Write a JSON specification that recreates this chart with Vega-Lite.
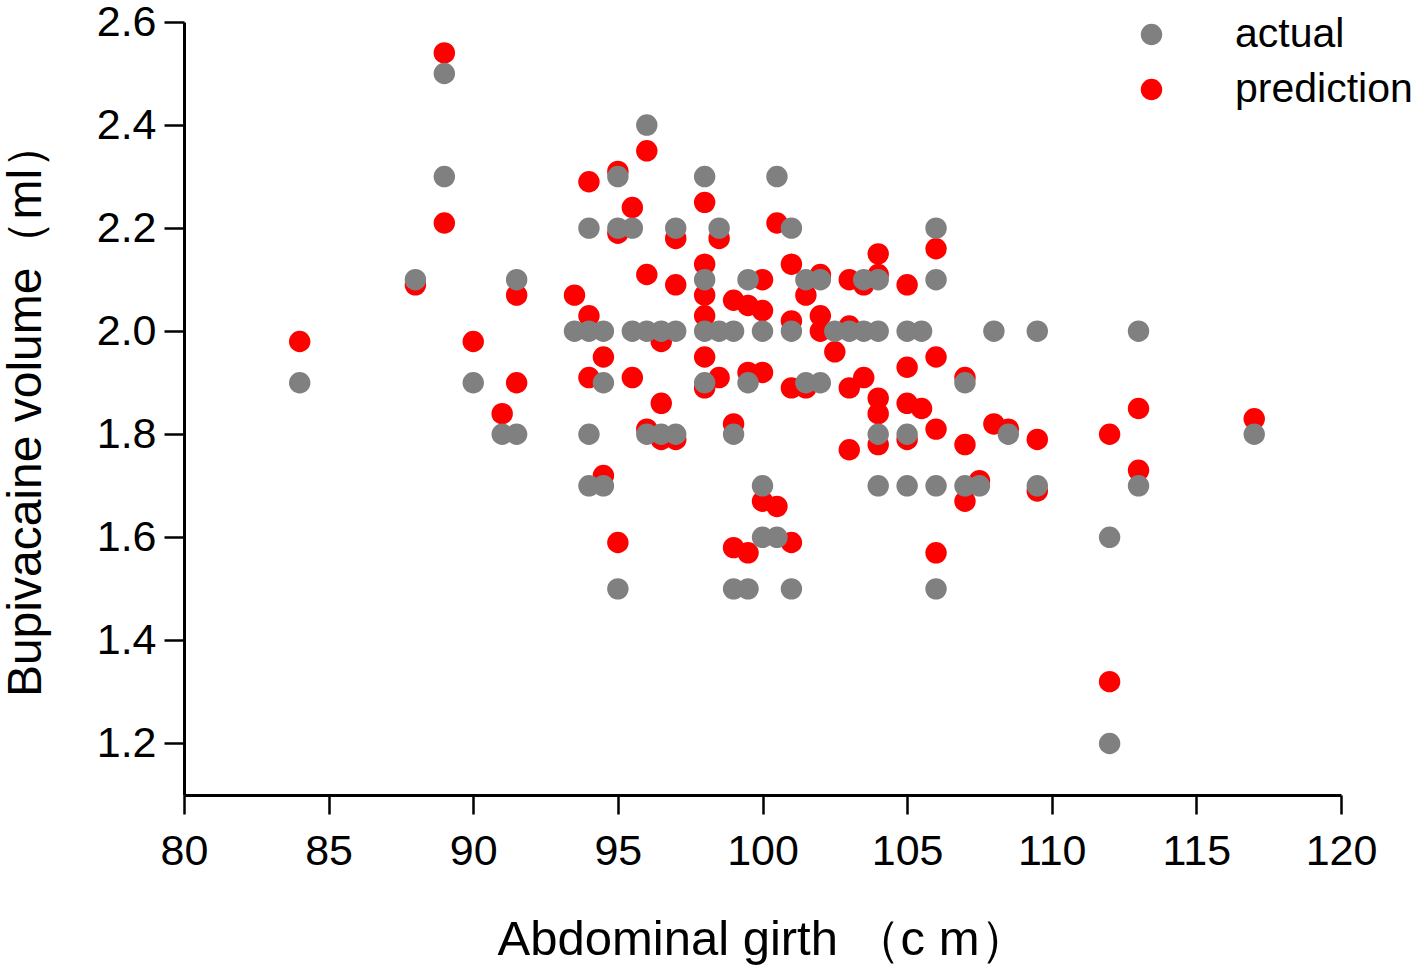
{
  "$schema": "https://vega.github.io/schema/vega-lite/v6.json",
  "autosize": "none",
  "width": 1157,
  "height": 773,
  "padding": {"left": 184, "top": 22, "right": 77, "bottom": 174},
  "background": "white",
  "config": {
    "view": {"stroke": null},
    "font": "Liberation Sans"
  },
  "data": {
    "values": [
      {"girth": 84, "volume": 1.98, "series": "prediction"},
      {"girth": 88, "volume": 2.09, "series": "prediction"},
      {"girth": 89, "volume": 2.54, "series": "prediction"},
      {"girth": 89, "volume": 2.21, "series": "prediction"},
      {"girth": 90, "volume": 1.98, "series": "prediction"},
      {"girth": 91, "volume": 1.84, "series": "prediction"},
      {"girth": 91.5, "volume": 2.07, "series": "prediction"},
      {"girth": 91.5, "volume": 1.90, "series": "prediction"},
      {"girth": 93.5, "volume": 2.07, "series": "prediction"},
      {"girth": 94, "volume": 2.29, "series": "prediction"},
      {"girth": 94, "volume": 2.03, "series": "prediction"},
      {"girth": 94, "volume": 1.91, "series": "prediction"},
      {"girth": 94.5, "volume": 1.95, "series": "prediction"},
      {"girth": 94.5, "volume": 1.72, "series": "prediction"},
      {"girth": 95, "volume": 2.31, "series": "prediction"},
      {"girth": 95, "volume": 2.19, "series": "prediction"},
      {"girth": 95, "volume": 1.59, "series": "prediction"},
      {"girth": 95.5, "volume": 2.24, "series": "prediction"},
      {"girth": 95.5, "volume": 1.91, "series": "prediction"},
      {"girth": 96, "volume": 2.35, "series": "prediction"},
      {"girth": 96, "volume": 2.11, "series": "prediction"},
      {"girth": 96, "volume": 1.81, "series": "prediction"},
      {"girth": 96.5, "volume": 1.98, "series": "prediction"},
      {"girth": 96.5, "volume": 1.86, "series": "prediction"},
      {"girth": 96.5, "volume": 1.79, "series": "prediction"},
      {"girth": 97, "volume": 2.18, "series": "prediction"},
      {"girth": 97, "volume": 2.09, "series": "prediction"},
      {"girth": 97, "volume": 1.79, "series": "prediction"},
      {"girth": 98, "volume": 2.25, "series": "prediction"},
      {"girth": 98, "volume": 2.13, "series": "prediction"},
      {"girth": 98, "volume": 2.07, "series": "prediction"},
      {"girth": 98, "volume": 2.03, "series": "prediction"},
      {"girth": 98, "volume": 1.95, "series": "prediction"},
      {"girth": 98, "volume": 1.89, "series": "prediction"},
      {"girth": 98.5, "volume": 2.18, "series": "prediction"},
      {"girth": 98.5, "volume": 1.91, "series": "prediction"},
      {"girth": 99, "volume": 2.06, "series": "prediction"},
      {"girth": 99, "volume": 1.82, "series": "prediction"},
      {"girth": 99, "volume": 1.58, "series": "prediction"},
      {"girth": 99.5, "volume": 2.05, "series": "prediction"},
      {"girth": 99.5, "volume": 1.92, "series": "prediction"},
      {"girth": 99.5, "volume": 1.57, "series": "prediction"},
      {"girth": 100, "volume": 2.10, "series": "prediction"},
      {"girth": 100, "volume": 2.04, "series": "prediction"},
      {"girth": 100, "volume": 1.92, "series": "prediction"},
      {"girth": 100, "volume": 1.67, "series": "prediction"},
      {"girth": 100.5, "volume": 2.21, "series": "prediction"},
      {"girth": 100.5, "volume": 1.66, "series": "prediction"},
      {"girth": 101, "volume": 2.13, "series": "prediction"},
      {"girth": 101, "volume": 2.02, "series": "prediction"},
      {"girth": 101, "volume": 1.89, "series": "prediction"},
      {"girth": 101, "volume": 1.59, "series": "prediction"},
      {"girth": 101.5, "volume": 2.07, "series": "prediction"},
      {"girth": 101.5, "volume": 1.89, "series": "prediction"},
      {"girth": 102, "volume": 2.11, "series": "prediction"},
      {"girth": 102, "volume": 2.03, "series": "prediction"},
      {"girth": 102, "volume": 2.00, "series": "prediction"},
      {"girth": 102.5, "volume": 1.96, "series": "prediction"},
      {"girth": 103, "volume": 2.10, "series": "prediction"},
      {"girth": 103, "volume": 2.01, "series": "prediction"},
      {"girth": 103, "volume": 1.89, "series": "prediction"},
      {"girth": 103, "volume": 1.77, "series": "prediction"},
      {"girth": 103.5, "volume": 2.09, "series": "prediction"},
      {"girth": 103.5, "volume": 1.91, "series": "prediction"},
      {"girth": 104, "volume": 2.15, "series": "prediction"},
      {"girth": 104, "volume": 2.11, "series": "prediction"},
      {"girth": 104, "volume": 1.87, "series": "prediction"},
      {"girth": 104, "volume": 1.84, "series": "prediction"},
      {"girth": 104, "volume": 1.78, "series": "prediction"},
      {"girth": 105, "volume": 2.09, "series": "prediction"},
      {"girth": 105, "volume": 1.93, "series": "prediction"},
      {"girth": 105, "volume": 1.86, "series": "prediction"},
      {"girth": 105, "volume": 1.79, "series": "prediction"},
      {"girth": 105.5, "volume": 1.85, "series": "prediction"},
      {"girth": 106, "volume": 2.16, "series": "prediction"},
      {"girth": 106, "volume": 1.95, "series": "prediction"},
      {"girth": 106, "volume": 1.81, "series": "prediction"},
      {"girth": 106, "volume": 1.57, "series": "prediction"},
      {"girth": 107, "volume": 1.91, "series": "prediction"},
      {"girth": 107, "volume": 1.78, "series": "prediction"},
      {"girth": 107, "volume": 1.67, "series": "prediction"},
      {"girth": 107.5, "volume": 1.71, "series": "prediction"},
      {"girth": 108, "volume": 1.82, "series": "prediction"},
      {"girth": 108.5, "volume": 1.81, "series": "prediction"},
      {"girth": 109.5, "volume": 1.79, "series": "prediction"},
      {"girth": 109.5, "volume": 1.69, "series": "prediction"},
      {"girth": 112, "volume": 1.80, "series": "prediction"},
      {"girth": 112, "volume": 1.32, "series": "prediction"},
      {"girth": 113, "volume": 1.85, "series": "prediction"},
      {"girth": 113, "volume": 1.73, "series": "prediction"},
      {"girth": 117, "volume": 1.83, "series": "prediction"},
      {"girth": 84, "volume": 1.9, "series": "actual"},
      {"girth": 88, "volume": 2.1, "series": "actual"},
      {"girth": 89, "volume": 2.5, "series": "actual"},
      {"girth": 89, "volume": 2.3, "series": "actual"},
      {"girth": 90, "volume": 1.9, "series": "actual"},
      {"girth": 91, "volume": 1.8, "series": "actual"},
      {"girth": 91.5, "volume": 1.8, "series": "actual"},
      {"girth": 91.5, "volume": 2.1, "series": "actual"},
      {"girth": 93.5, "volume": 2.0, "series": "actual"},
      {"girth": 94, "volume": 2.0, "series": "actual"},
      {"girth": 94.5, "volume": 2.0, "series": "actual"},
      {"girth": 94, "volume": 2.2, "series": "actual"},
      {"girth": 94.5, "volume": 1.9, "series": "actual"},
      {"girth": 94, "volume": 1.8, "series": "actual"},
      {"girth": 94, "volume": 1.7, "series": "actual"},
      {"girth": 94.5, "volume": 1.7, "series": "actual"},
      {"girth": 95, "volume": 2.3, "series": "actual"},
      {"girth": 95, "volume": 2.2, "series": "actual"},
      {"girth": 95.5, "volume": 2.2, "series": "actual"},
      {"girth": 95, "volume": 1.5, "series": "actual"},
      {"girth": 95.5, "volume": 2.0, "series": "actual"},
      {"girth": 96, "volume": 2.0, "series": "actual"},
      {"girth": 96.5, "volume": 2.0, "series": "actual"},
      {"girth": 97, "volume": 2.0, "series": "actual"},
      {"girth": 96, "volume": 2.4, "series": "actual"},
      {"girth": 97, "volume": 2.2, "series": "actual"},
      {"girth": 96, "volume": 1.8, "series": "actual"},
      {"girth": 96.5, "volume": 1.8, "series": "actual"},
      {"girth": 97, "volume": 1.8, "series": "actual"},
      {"girth": 98, "volume": 2.3, "series": "actual"},
      {"girth": 98, "volume": 2.1, "series": "actual"},
      {"girth": 98, "volume": 2.0, "series": "actual"},
      {"girth": 98.5, "volume": 2.0, "series": "actual"},
      {"girth": 99, "volume": 2.0, "series": "actual"},
      {"girth": 98, "volume": 1.9, "series": "actual"},
      {"girth": 98.5, "volume": 2.2, "series": "actual"},
      {"girth": 99, "volume": 1.8, "series": "actual"},
      {"girth": 99, "volume": 1.5, "series": "actual"},
      {"girth": 99.5, "volume": 1.5, "series": "actual"},
      {"girth": 99.5, "volume": 2.1, "series": "actual"},
      {"girth": 99.5, "volume": 1.9, "series": "actual"},
      {"girth": 100, "volume": 2.0, "series": "actual"},
      {"girth": 100, "volume": 1.7, "series": "actual"},
      {"girth": 100, "volume": 1.6, "series": "actual"},
      {"girth": 100.5, "volume": 1.6, "series": "actual"},
      {"girth": 100.5, "volume": 2.3, "series": "actual"},
      {"girth": 101, "volume": 2.2, "series": "actual"},
      {"girth": 101, "volume": 2.0, "series": "actual"},
      {"girth": 101, "volume": 1.5, "series": "actual"},
      {"girth": 101.5, "volume": 2.1, "series": "actual"},
      {"girth": 102, "volume": 2.1, "series": "actual"},
      {"girth": 101.5, "volume": 1.9, "series": "actual"},
      {"girth": 102, "volume": 1.9, "series": "actual"},
      {"girth": 102.5, "volume": 2.0, "series": "actual"},
      {"girth": 103, "volume": 2.0, "series": "actual"},
      {"girth": 103.5, "volume": 2.0, "series": "actual"},
      {"girth": 104, "volume": 2.0, "series": "actual"},
      {"girth": 103.5, "volume": 2.1, "series": "actual"},
      {"girth": 104, "volume": 2.1, "series": "actual"},
      {"girth": 104, "volume": 1.8, "series": "actual"},
      {"girth": 104, "volume": 1.7, "series": "actual"},
      {"girth": 105, "volume": 2.0, "series": "actual"},
      {"girth": 105.5, "volume": 2.0, "series": "actual"},
      {"girth": 105, "volume": 1.8, "series": "actual"},
      {"girth": 105, "volume": 1.7, "series": "actual"},
      {"girth": 106, "volume": 2.2, "series": "actual"},
      {"girth": 106, "volume": 2.1, "series": "actual"},
      {"girth": 106, "volume": 1.7, "series": "actual"},
      {"girth": 106, "volume": 1.5, "series": "actual"},
      {"girth": 107, "volume": 1.9, "series": "actual"},
      {"girth": 107, "volume": 1.7, "series": "actual"},
      {"girth": 107.5, "volume": 1.7, "series": "actual"},
      {"girth": 108, "volume": 2.0, "series": "actual"},
      {"girth": 108.5, "volume": 1.8, "series": "actual"},
      {"girth": 109.5, "volume": 2.0, "series": "actual"},
      {"girth": 109.5, "volume": 1.7, "series": "actual"},
      {"girth": 112, "volume": 1.6, "series": "actual"},
      {"girth": 112, "volume": 1.2, "series": "actual"},
      {"girth": 113, "volume": 2.0, "series": "actual"},
      {"girth": 113, "volume": 1.7, "series": "actual"},
      {"girth": 117, "volume": 1.8, "series": "actual"}
    ]
  },
  "mark": {"type": "point", "shape": "circle", "filled": true, "opacity": 1, "size": 460, "strokeWidth": 0},
  "encoding": {
    "x": {
      "field": "girth",
      "type": "quantitative",
      "scale": {"domain": [80, 120], "nice": false, "zero": false},
      "axis": {
        "title": "Abdominal girth （c m）",
        "values": [80, 85, 90, 95, 100, 105, 110, 115, 120],
        "grid": false,
        "domainColor": "black",
        "domainWidth": 3,
        "tickColor": "black",
        "tickWidth": 2.5,
        "tickSize": 19,
        "labelFontSize": 43,
        "labelColor": "black",
        "labelPadding": 16,
        "labelFlush": false,
        "titleFontSize": 49,
        "titleFontWeight": "normal",
        "titleColor": "black",
        "titlePadding": 42
      }
    },
    "y": {
      "field": "volume",
      "type": "quantitative",
      "scale": {"domain": [1.1, 2.6], "nice": false, "zero": false},
      "axis": {
        "title": "Bupivacaine volume（ml）",
        "values": [1.2, 1.4, 1.6, 1.8, 2.0, 2.2, 2.4, 2.6],
        "format": ".1f",
        "grid": false,
        "domainColor": "black",
        "domainWidth": 3,
        "tickColor": "black",
        "tickWidth": 2.5,
        "tickSize": 20,
        "labelFontSize": 43,
        "labelColor": "black",
        "labelPadding": 8,
        "labelFlush": false,
        "titleFontSize": 48,
        "titleFontWeight": "normal",
        "titleColor": "black",
        "titlePadding": 46
      }
    },
    "color": {
      "field": "series",
      "type": "nominal",
      "scale": {"domain": ["actual", "prediction"], "range": ["#808080", "#ff0000"]},
      "legend": {
        "title": null,
        "orient": "none",
        "legendX": 947,
        "legendY": -8,
        "symbolType": "circle",
        "symbolSize": 460,
        "symbolStrokeWidth": 0,
        "symbolOpacity": 1,
        "labelFontSize": 41,
        "labelColor": "black",
        "labelLimit": 0,
        "labelOffset": 63,
        "rowPadding": 13
      }
    }
  }
}
